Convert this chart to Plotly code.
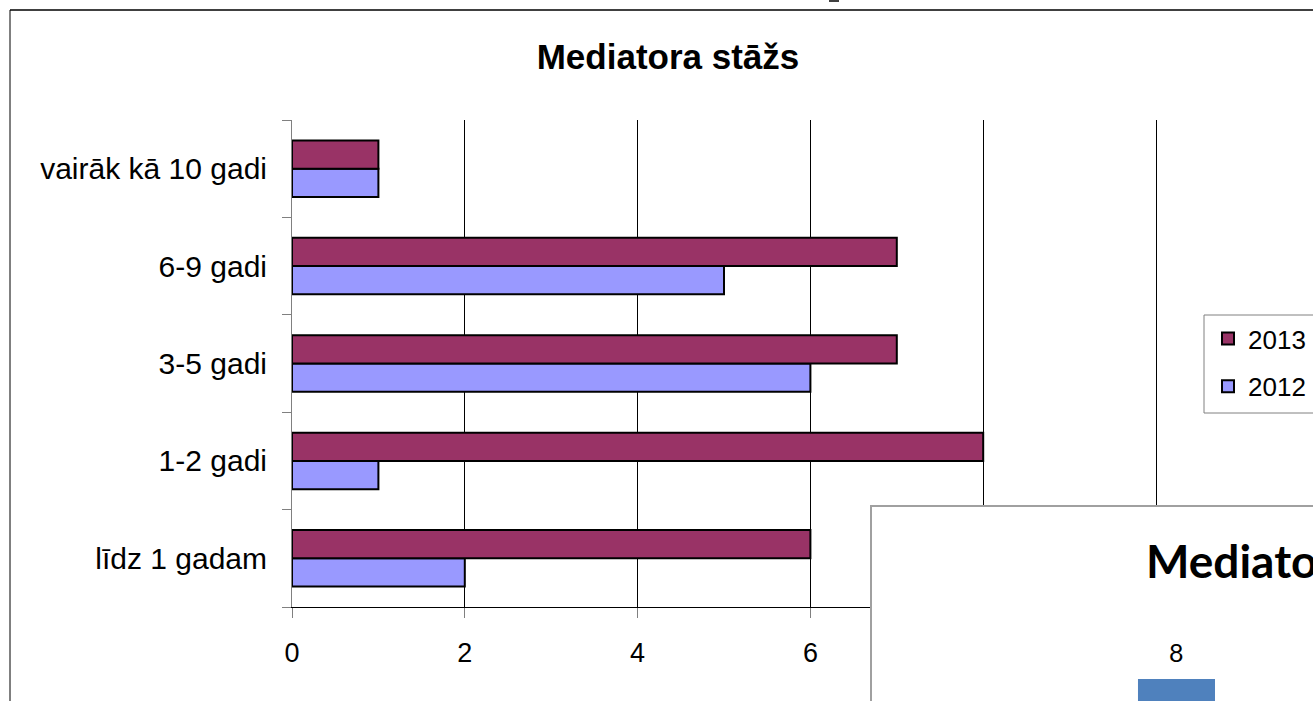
import plotly.graph_objects as go

# Dati
kategorijas = ["līdz 1 gadam", "1-2 gadi", "3-5 gadi", "6-9 gadi", "vairāk kā 10 gadi"]
gads_2012 = [2, 1, 6, 5, 1]
gads_2013 = [6, 8, 7, 7, 1]

# otrā (pārklātā) diagramma apakšā labajā pusē
otra_kat = ["kopā"]
otra_vert = [8]

W, H = 1313, 701
FONT = "Liberation Sans"


def px_x(p):
    return p / W


def px_y(p):
    return 1 - p / H


fig = go.Figure()

fig.add_trace(go.Bar(
    y=kategorijas, x=gads_2012, name="2012", orientation="h",
    marker=dict(color="#9999FF", line=dict(color="black", width=2)),
    legendgroup="a", legendrank=2, xaxis="x", yaxis="y"
))
fig.add_trace(go.Bar(
    y=kategorijas, x=gads_2013, name="2013", orientation="h",
    marker=dict(color="#993366", line=dict(color="black", width=2)),
    legendgroup="b", legendrank=1, xaxis="x", yaxis="y"
))

# pārklātā diagramma
fig.add_trace(go.Bar(
    x=otra_kat, y=otra_vert, marker=dict(color="#4F81BD", line=dict(width=0)),
    showlegend=False, xaxis="x2", yaxis="y2"
))
fig.add_annotation(
    x=otra_kat[0], y=otra_vert[0], xref="x2", yref="y2",
    text=str(otra_vert[0]), showarrow=False, yanchor="bottom", yshift=10,
    font=dict(family="Lato", size=25, color="black")
)
fig.add_annotation(
    x=px_x(1144), y=px_y(560), xref="paper", yref="paper",
    text="Mediatora stāžs", showarrow=False, xanchor="left", yanchor="middle",
    font=dict(family="Lato", size=46, color="black", weight="bold")
)

x_max = 10.03  # mazliet virs 10, lai redzama režģa līnija pie 10

fig.update_layout(
    width=W, height=H,
    margin=dict(l=0, r=0, t=0, b=0),
    paper_bgcolor="white", plot_bgcolor="white",
    barmode="group", bargap=0.42, bargroupgap=0,
    title=dict(
        text="Mediatora stāžs", x=px_x(668), y=px_y(57),
        xref="container", yref="container", xanchor="center", yanchor="middle",
        font=dict(family=FONT, size=35, color="black", weight="bold")
    ),
    xaxis=dict(
        domain=[px_x(292), px_x(292 + 86.4 * x_max)], range=[0, x_max],
        dtick=2, anchor="y", showgrid=True, gridcolor="black", gridwidth=1,
        zeroline=False, showline=True, linecolor="black", linewidth=1,
        ticks="outside", ticklen=10, tickcolor="#808080",
        tickfont=dict(family=FONT, size=27, color="black"),
        ticklabelstandoff=12, automargin=False
    ),
    yaxis=dict(
        domain=[px_y(607), px_y(120)], type="category", anchor="x",
        showgrid=False, zeroline=False, showline=True, linecolor="#808080",
        linewidth=1, ticks="outside", tickson="boundaries", ticklen=9,
        tickcolor="#808080", tickfont=dict(family=FONT, size=30, color="black"),
        ticklabelstandoff=18, automargin=False
    ),
    xaxis2=dict(
        domain=[px_x(872), 1], anchor="y2", type="category",
        range=[-2.293, 1.028], side="top", showline=True, linecolor="#A0A0A0",
        linewidth=2, showgrid=False, zeroline=False, showticklabels=False,
        ticks=""
    ),
    yaxis2=dict(
        domain=[0, px_y(507)], anchor="x2", range=[6.9, 16.6], side="left",
        showline=True, linecolor="#A0A0A0", linewidth=2, showgrid=False,
        zeroline=False, showticklabels=False, ticks=""
    ),
    legend=dict(
        x=px_x(1208), y=px_y(315), xanchor="left", yanchor="top",
        traceorder="grouped", tracegroupgap=11,
        borderwidth=0, bgcolor="rgba(0,0,0,0)",
        font=dict(family=FONT, size=26, color="black")
    ),
    showlegend=True,
)

# leģendas rāmis (iziet ārpus labās malas)
fig.add_shape(type="rect", xref="paper", yref="paper",
              x0=px_x(1204), x1=px_x(1330), y0=px_y(413), y1=px_y(315),
              line=dict(color="#808080", width=1), fillcolor="white",
              layer="below")

# diagrammas apmale
fig.add_shape(type="line", xref="paper", yref="paper",
              x0=px_x(10), x1=1, y0=px_y(10), y1=px_y(10),
              line=dict(color="#404040", width=2))
fig.add_shape(type="line", xref="paper", yref="paper",
              x0=px_x(10), x1=px_x(10), y0=px_y(10), y1=0,
              line=dict(color="black", width=1))
fig.add_shape(type="rect", xref="paper", yref="paper",
              x0=px_x(829), x1=px_x(839), y0=px_y(2), y1=1,
              line=dict(width=0), fillcolor="#404040")

fig.write_html("out.html", config={"displayModeBar": False},
               post_script="document.body.style.margin='0';")
